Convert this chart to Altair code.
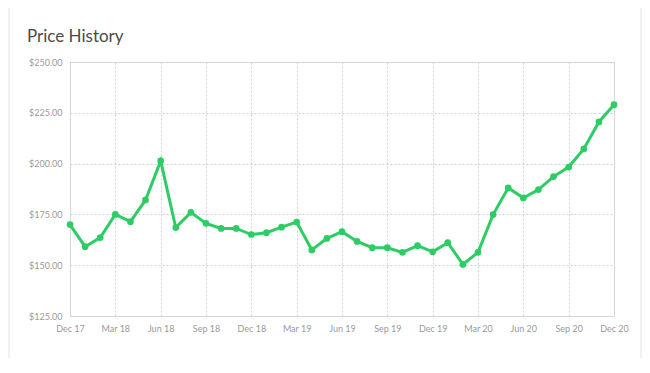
import altair as alt
import pandas as pd

months = [
    "Dec 17", "Jan 18", "Feb 18", "Mar 18", "Apr 18", "May 18", "Jun 18", "Jul 18", "Aug 18",
    "Sep 18", "Oct 18", "Nov 18", "Dec 18", "Jan 19", "Feb 19", "Mar 19", "Apr 19", "May 19",
    "Jun 19", "Jul 19", "Aug 19", "Sep 19", "Oct 19", "Nov 19", "Dec 19", "Jan 20", "Feb 20",
    "Mar 20", "Apr 20", "May 20", "Jun 20", "Jul 20", "Aug 20", "Sep 20", "Oct 20", "Nov 20",
    "Dec 20",
]
prices = [
    170.0, 159.1, 163.6, 175.0, 171.4, 182.1, 201.3, 168.5, 176.0,
    170.6, 168.1, 168.1, 165.1, 166.0, 168.7, 171.2, 157.5, 163.2,
    166.5, 161.7, 158.6, 158.6, 156.3, 159.6, 156.6, 161.1, 150.4,
    156.3, 174.9, 188.1, 183.1, 187.2, 193.6, 198.3, 207.2, 220.5,
    229.0,
]
tick_labels = ["Dec 17", "Mar 18", "Jun 18", "Sep 18", "Dec 18", "Mar 19", "Jun 19",
               "Sep 19", "Dec 19", "Mar 20", "Jun 20", "Sep 20", "Dec 20"]
y_ticks = [125, 150, 175, 200, 225, 250]

df = pd.DataFrame({"month": months, "price": prices})

green = "#2ecc65"
font = "Lato"
grid_color = "#d0d0d0"

base = alt.Chart(df).encode(
    x=alt.X(
        "month:O",
        sort=None,
        scale=alt.Scale(type="point", padding=0),
        axis=alt.Axis(
            values=tick_labels, labelAngle=0, title=None, ticks=False, domain=False,
            grid=True, gridDash=[2, 2], gridColor=grid_color, labelColor="#9a9a9a",
            labelFontSize=9, labelFont=font, labelPadding=8,
        ),
    ),
    y=alt.Y(
        "price:Q",
        scale=alt.Scale(domain=[125, 250], nice=False, zero=False),
        axis=alt.Axis(
            values=y_ticks, format="$,.2f", title=None, ticks=False, domain=False,
            grid=True, gridDash=[2, 2], gridColor=grid_color, labelColor="#9a9a9a",
            labelFontSize=9, labelFont=font, labelPadding=8,
        ),
    ),
)

line = base.mark_line(color=green, strokeWidth=3)
pts = base.mark_circle(color=green, size=45, opacity=1)

# faint card frame around the chart
frame_df = pd.DataFrame({"k": [0]})
card_color = "#ececec"
frame_left = alt.Chart(frame_df).mark_rule(color=card_color, strokeWidth=1.5).encode(
    x=alt.value(-61), y=alt.value(-55), y2=alt.value(296)
)
frame_right = alt.Chart(frame_df).mark_rule(color=card_color, strokeWidth=1.5).encode(
    x=alt.value(571), y=alt.value(-55), y2=alt.value(296)
)
frame_top = alt.Chart(frame_df).mark_rule(color=card_color, strokeWidth=1.5).encode(
    x=alt.value(-61), x2=alt.value(571), y=alt.value(-55)
)

chart = (
    alt.layer(frame_left, frame_right, frame_top, line, pts)
    .properties(
        width=544,
        height=254,
        title=alt.TitleParams(
            "Price History", anchor="start", frame="group", dx=-43, offset=14, dy=54,
            fontSize=17, font=font, fontWeight="normal", color="#4a4a4a",
        ),
        autosize=alt.AutoSizeParams(type="none"),
        padding={"left": 62, "top": 54, "right": 28, "bottom": 49},
    )
    .configure_view(stroke=None)
    .configure(background="white")
)

chart.save("out.html", embed_options={"renderer": "svg", "actions": False})
